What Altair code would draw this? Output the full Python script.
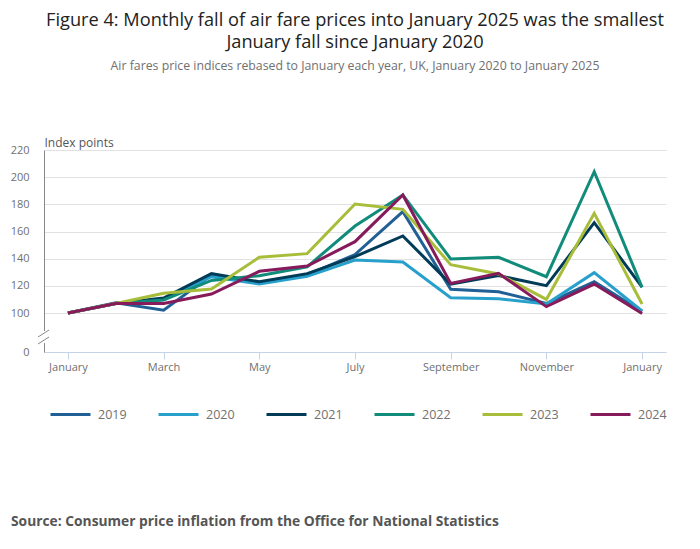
import altair as alt
import pandas as pd

months = ["January", "February", "March", "April", "May", "June", "July",
          "August", "September", "October", "November", "December", "January"]
years = ["2019", "2020", "2021", "2022", "2023", "2024"]
v2019 = [100, 107.6, 102, 128, 122, 128, 143, 174.6, 117.4, 115.7, 107, 123, 101]
v2020 = [100, 107, 110, 126.7, 121.3, 127, 139, 137.5, 111.3, 110.5, 106.6, 129.7, 101.5]
v2021 = [100, 107, 111, 129, 123, 129, 141.5, 156.7, 121.3, 127.5, 120.1, 166.5, 119]
v2022 = [100, 107, 109.6, 124, 127.5, 134, 164, 186.9, 139.8, 141, 126.7, 204, 118.9]
v2023 = [100, 107, 114.5, 117.7, 141, 143.7, 180.2, 176.3, 135.6, 128.7, 110, 173.4, 106.6]
v2024 = [100, 107, 107, 114, 130.7, 134.6, 152.5, 186.9, 121.8, 129.2, 104.7, 121.3, 98.5]
colors = ["#206095", "#27a0cc", "#003c57", "#118c7b", "#a8bd3a", "#871a5b"]

series = [v2019, v2020, v2021, v2022, v2023, v2024]
rows = []
for y, vals in zip(years, series):
    for i, v in enumerate(vals):
        rows.append({"year": y, "m": i, "month": months[i], "value": v})
df = pd.DataFrame(rows)

FONT = "Open Sans"
W, H = 622, 202

label_expr = ("['January','February','March','April','May','June','July','August',"
              "'September','October','November','December','January'][datum.value]")

lines = alt.Chart(df).mark_line(strokeWidth=3).encode(
    x=alt.X("m:Q",
            scale=alt.Scale(domain=[-0.5, 12.5], nice=False, zero=False),
            axis=alt.Axis(values=[0, 2, 4, 6, 8, 10, 12], labelExpr=label_expr,
                          title=None, grid=False, domainColor="#c5d3e6",
                          tickColor="#c5d3e6", tickSize=7, labelPadding=2,
                          labelFontSize=11, labelColor="#707070", labelFont=FONT)),
    y=alt.Y("value:Q",
            scale=alt.Scale(domain=[0, 100, 220], range=[H, 163, 0], nice=False, zero=False),
            axis=alt.Axis(values=[0, 100, 120, 140, 160, 180, 200, 220],
                          title="Index points", titleAngle=0, titleAlign="left",
                          titleX=0, titleY=-4, titleBaseline="alphabetic",
                          titleFontWeight="normal", titleFontSize=12,
                          titleColor="#555555", titleFont=FONT,
                          ticks=False, labelPadding=15, labelFontSize=11,
                          labelColor="#707070", labelFont=FONT,
                          domainColor="#888888", gridColor="#e2e2e2")),
    color=alt.Color("year:N", scale=alt.Scale(domain=years, range=colors),
                    legend=alt.Legend(title=None, orient="none", direction="horizontal",
                                      legendX=5, legendY=243,
                                      symbolType="stroke", symbolSize=1600,
                                      symbolStrokeWidth=3, labelFontSize=12.5,
                                      labelColor="#707070", labelFont=FONT,
                                      labelOffset=6, columnPadding=25)),
)

# axis break marks
gap = alt.Chart(pd.DataFrame({"a": [0]})).mark_rule(color="white", strokeWidth=4).encode(
    x=alt.value(0), y=alt.value(181), y2=alt.value(193))
slash = alt.Chart(pd.DataFrame({"y1": [187, 194], "y2": [180, 187]})).mark_rule(
    color="#888888", strokeWidth=1).encode(
    x=alt.value(-6), x2=alt.value(5), y=alt.Y("y1:Q", scale=None), y2=alt.Y2("y2:Q"))

source = alt.Chart(pd.DataFrame({"t": ["Source: Consumer price inflation from the Office for National Statistics"]})).mark_text(
    align="left", baseline="alphabetic", font=FONT, fontSize=13.8, fontWeight="bold",
    color="#555555").encode(x=alt.value(-33), y=alt.value(376), text="t:N")

chart = alt.layer(lines, gap, slash, source).properties(
    width=W, height=H,
    padding={"left": 2, "top": 2, "right": 5, "bottom": 5},
    title=alt.TitleParams(
        text=["Figure 4: Monthly fall of air fare prices into January 2025 was the smallest",
              "January fall since January 2020"],
        subtitle="Air fares price indices rebased to January each year, UK, January 2020 to January 2025",
        anchor="middle", font=FONT, fontSize=18.2, fontWeight="normal", color="#222222",
        lineHeight=22, subtitleFont=FONT, subtitleFontSize=12.3, subtitleColor="#707070",
        subtitlePadding=8, offset=63),
).configure_view(stroke=None)

chart.save("out.html", embed_options={"renderer": "svg", "actions": False})
